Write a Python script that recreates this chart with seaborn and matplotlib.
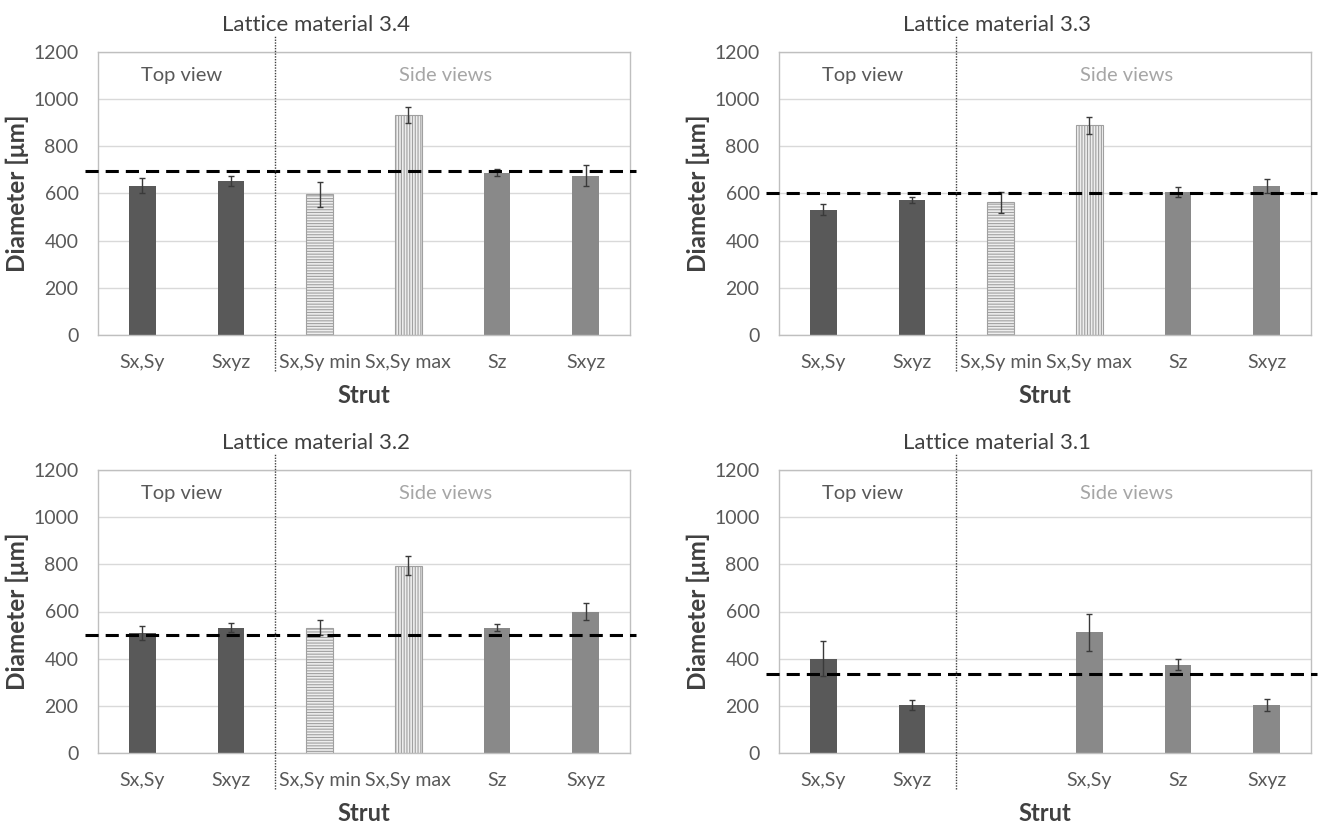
import numpy as np
import pandas as pd
import matplotlib
matplotlib.use("Agg")
import matplotlib.pyplot as plt
import seaborn as sns

# strut categories (slot order on the x axis)
slots = ["s0", "s1", "s2", "s3", "s4", "s5"]
labels_full = ["Sx,Sy", "Sxyz", "Sx,Sy min", "Sx,Sy max", "Sz", "Sxyz"]
labels_31 = ["Sx,Sy", "Sxyz", "", "Sx,Sy", "Sz", "Sxyz"]

# mean diameters [um] and standard deviations
d34 = [633, 652, 597, 932, 689, 675]
e34 = [33, 22, 53, 35, 15, 44]
ref34 = 695

d33 = [532, 572, 563, 889, 606, 632]
e33 = [23, 13, 44, 37, 20, 28]
ref33 = 600

d32 = [509, 532, 532, 795, 531, 600]
e32 = [30, 19, 31, 40, 15, 38]
ref32 = 502

d31 = [399, 204, np.nan, 511, 375, 204]
e31 = [74, 20, np.nan, 77, 23, 27]
ref31 = 336

titles = ["Lattice material 3.4", "Lattice material 3.3",
          "Lattice material 3.2", "Lattice material 3.1"]

DARK = "#595959"
MID = "#898989"
LIGHT = "#eeeeee"
colors_full = [DARK, DARK, LIGHT, LIGHT, MID, MID]
hatch_full = ["", "", "------", "||||||", "", ""]
colors_31 = [DARK, DARK, LIGHT, MID, MID, MID]
hatch_31 = ["", "", "", "", "", ""]

sns.set_style("white")
plt.rcParams["font.family"] = ["Lato", "DejaVu Sans"]
plt.rcParams["hatch.linewidth"] = 0.8
plt.rcParams["hatch.color"] = "#9a9a9a"

W, H = 1320, 825
fig = plt.figure(figsize=(13.2, 8.25), dpi=100)

panels = [
    (d34, e34, ref34, labels_full, colors_full, hatch_full, 98, 52),
    (d33, e33, ref33, labels_full, colors_full, hatch_full, 779, 52),
    (d32, e32, ref32, labels_full, colors_full, hatch_full, 98, 470),
    (d31, e31, ref31, labels_31, colors_31, hatch_31, 779, 470),
]

for k, (vals, errs, ref, labs, cols, hatches, left, top) in enumerate(panels):
    ax = fig.add_axes([left / W, 1 - (top + 283) / H, 532 / W, 283 / H])
    df = pd.DataFrame({"slot": slots, "Diameter": vals})
    sns.barplot(data=df, x="slot", y="Diameter", hue="slot", order=slots,
                hue_order=slots, palette=dict(zip(slots, cols)), width=0.3,
                saturation=1, errorbar=None, legend=False, ax=ax)
    for p in ax.patches:
        i = int(round(p.get_x() + p.get_width() / 2))
        if hatches[i]:
            p.set_hatch(hatches[i])
            p.set_edgecolor("#a0a0a0")
            p.set_linewidth(0.8)
        else:
            p.set_edgecolor(cols[i])
            p.set_linewidth(0)

    ax.errorbar(range(len(slots)), vals, yerr=errs, fmt="none",
                ecolor="#3a3a3a", elinewidth=1, capsize=2.5, capthick=1)
    ax.axhline(ref, xmin=-0.025, xmax=1.012, clip_on=False, color="black",
               lw=2.2, ls=(0, (4.3, 2.3)), zorder=5)
    ax.axvline(1.5, ymin=-0.128, ymax=1.057, clip_on=False, color="#404040",
               lw=1, ls=(0, (1, 1)), zorder=5)

    ax.set_ylim(0, 1200)
    ax.set_xlim(-0.5, 5.5)
    ax.set_yticks(range(0, 1201, 200))
    ax.set_xticks(range(len(slots)))
    ax.set_xticklabels(labs)
    ax.yaxis.grid(True, color="#d9d9d9", lw=1)
    ax.set_axisbelow(True)
    for s in ax.spines.values():
        s.set_color("#bfbfbf")
        s.set_linewidth(1)
    ax.tick_params(axis="both", length=0, labelsize=14, colors="#595959")
    ax.tick_params(axis="x", pad=14)
    ax.tick_params(axis="y", pad=14)

    ax.text(0.44, 1100, "Top view", ha="center", va="center",
            fontsize=14.5, color="#595959")
    ax.text(3.42, 1100, "Side views", ha="center", va="center",
            fontsize=14.5, color="#a6a6a6")

    ax.set_title(titles[k], x=0.41, pad=15, fontsize=16, color="#404040")
    ax.set_xlabel("Strut", fontsize=17, fontweight="bold", color="#404040",
                  labelpad=9)
    ax.set_ylabel("Diameter [μm]", fontsize=17.5, fontweight="bold",
                  color="#404040", labelpad=3)

fig.savefig("out.png", dpi=100, facecolor="white")
